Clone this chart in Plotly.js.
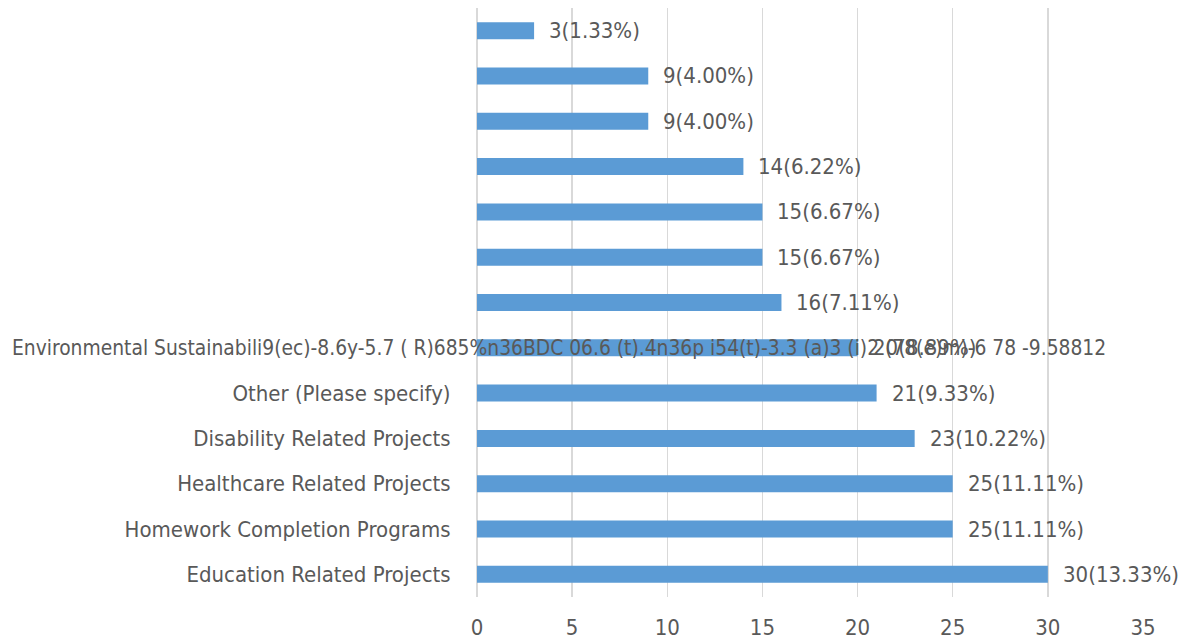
<!DOCTYPE html>
<html>
<head>
<meta charset="utf-8">
<script src="https://cdn.plot.ly/plotly-3.0.1.min.js"></script>
<style>html,body{margin:0;padding:0;background:#fff;}#chart{width:1185px;height:644px;}</style>
</head>
<body>
<div id="chart"></div>
<script>
// Categories listed bottom to top
const categories = [
  "Education Related Projects",
  "Homework Completion Programs",
  "Healthcare Related Projects",
  "Disability Related Projects",
  "Other (Please specify)",
  "",
  "", "", "", "", "", "", ""
];
const values = [30, 25, 25, 23, 21, 20, 16, 15, 15, 14, 9, 9, 3];
const labels = ["30(13.33%)", "25(11.11%)", "25(11.11%)", "23(10.22%)", "21(9.33%)", "20(8.89%)",
  "16(7.11%)", "15(6.67%)", "15(6.67%)", "14(6.22%)", "9(4.00%)", "9(4.00%)", "3(1.33%)"];
const garbledLabel = "Environmental Sustainabili9(ec)-8.6y-5.7 ( R)685%n36BDC 06.6 (t).4n36p i54(t)-3.3 (a)3 (i)2 (78(e)m)-6 78 -9.58812";
const garbledIndex = 5;
const xTicks = [0, 5, 10, 15, 20, 25, 30, 35];

const positions = categories.map((c, i) => i);
const FONT = '"Liberation Sans Narrow", "Arial Narrow", "DejaVu Sans Condensed", sans-serif';
const GREY = '#595959';

const annotations = values.map((v, i) => ({
  x: v, y: positions[i], xref: 'x', yref: 'y',
  text: labels[i], showarrow: false, xanchor: 'left', yanchor: 'middle',
  xshift: 13, font: {family: FONT, size: 22, color: GREY}
}));
annotations.push({
  x: -0.7012, y: positions[garbledIndex], xref: 'paper', yref: 'y',
  text: garbledLabel, showarrow: false, xanchor: 'left', yanchor: 'middle',
  font: {family: FONT, size: 20.8, color: GREY}
});

const trace = {
  type: 'bar', orientation: 'h',
  x: values, y: positions,
  marker: {color: '#5B9BD5', line: {width: 0}},
  hoverinfo: 'none'
};

const layout = {
  width: 1185, height: 644,
  margin: {l: 477, r: 42, t: 8, b: 47},
  paper_bgcolor: '#ffffff', plot_bgcolor: '#ffffff',
  showlegend: false,
  bargap: 0.625,
  font: {family: FONT, size: 22, color: GREY},
  xaxis: {
    range: [0, 35], tickvals: xTicks, ticktext: xTicks.map(String),
    showgrid: true, gridcolor: '#d9d9d9', gridwidth: 1.3,
    zeroline: true, zerolinecolor: '#d9d9d9', zerolinewidth: 1.3,
    showline: false,
    ticks: 'outside', ticklen: 11, tickcolor: 'rgba(0,0,0,0)',
    tickfont: {family: FONT, size: 22, color: GREY},
    fixedrange: true
  },
  yaxis: {
    range: [-0.5, categories.length - 0.5],
    tickvals: positions, ticktext: categories,
    showgrid: false, zeroline: false, showline: false,
    ticks: 'outside', ticklen: 21, tickcolor: 'rgba(0,0,0,0)',
    tickfont: {family: FONT, size: 22, color: GREY},
    fixedrange: true
  },
  annotations: annotations
};

Plotly.newPlot('chart', [trace], layout, {displayModeBar: false, staticPlot: true});
</script>
</body>
</html>
